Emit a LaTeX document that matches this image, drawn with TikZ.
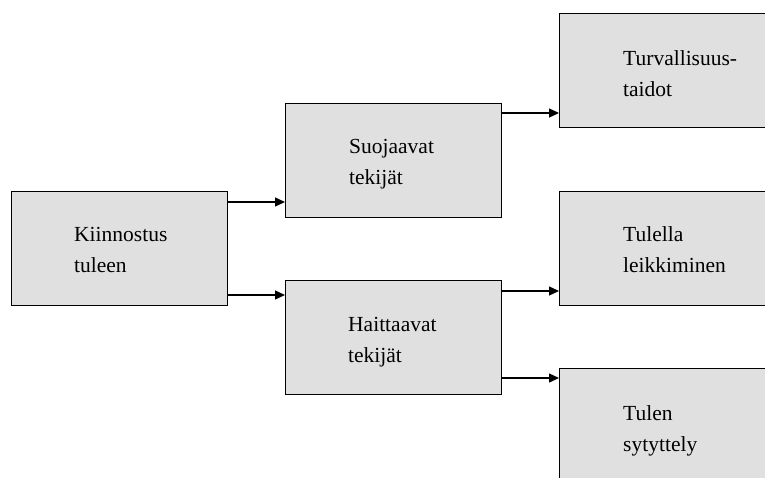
\documentclass[tikz,border=0pt]{standalone}
\usepackage{fontspec}
\setmainfont{Liberation Serif}
\usetikzlibrary{arrows.meta}
\definecolor{boxgray}{HTML}{E0E0E0}
\tikzset{
  box/.style={draw=black, fill=boxgray, line width=1.4pt, rectangle, anchor=north west, inner sep=0pt, minimum width=216pt, minimum height=114pt},
  openbox/.style={box, minimum width=240pt},
  txt/.style={anchor=base west, align=left, inner sep=0pt, font=\fontsize{21.5}{30.5}\selectfont},
  arr/.style={line width=1.3pt, -{Triangle[length=10pt,width=9pt]}}
}
\begin{document}
\begin{tikzpicture}[x=1pt,y=-1pt]
\useasboundingbox (0,0) rectangle (765,477);
\clip (0,0) rectangle (765,477);
\node[box] (k) at (11,191) {};
\node[box] (s) at (285,103) {};
\node[box] (h) at (285,280) {};
\node[openbox] (t1) at (559,13) {};
\node[openbox] (t2) at (559,191) {};
\node[openbox, minimum height=140pt] (t3) at (559,368) {};
\node[txt] (kt) at (74,272) {Kiinnostus\\tuleen};
\node[txt] (st) at (349,184) {Suojaavat\\tekijät};
\node[txt] (ht) at (348,362) {Haittaavat\\tekijät};
\node[txt] (t1t) at (623,96) {Turvallisuus-\\taidot};
\node[txt] (t2t) at (623,272) {Tulella\\leikkiminen};
\node[txt] (t3t) at (623,451) {Tulen\\sytyttely};
\draw[arr] (k.east |- 0,202) -- (s.west |- 0,202);
\draw[arr] (k.east |- 0,295) -- (h.west |- 0,295);
\draw[arr] (s.east |- 0,113) -- (t1.west |- 0,113);
\draw[arr] (h.east |- 0,291) -- (t2.west |- 0,291);
\draw[arr] (h.east |- 0,378) -- (t3.west |- 0,378);
\end{tikzpicture}
\end{document}
